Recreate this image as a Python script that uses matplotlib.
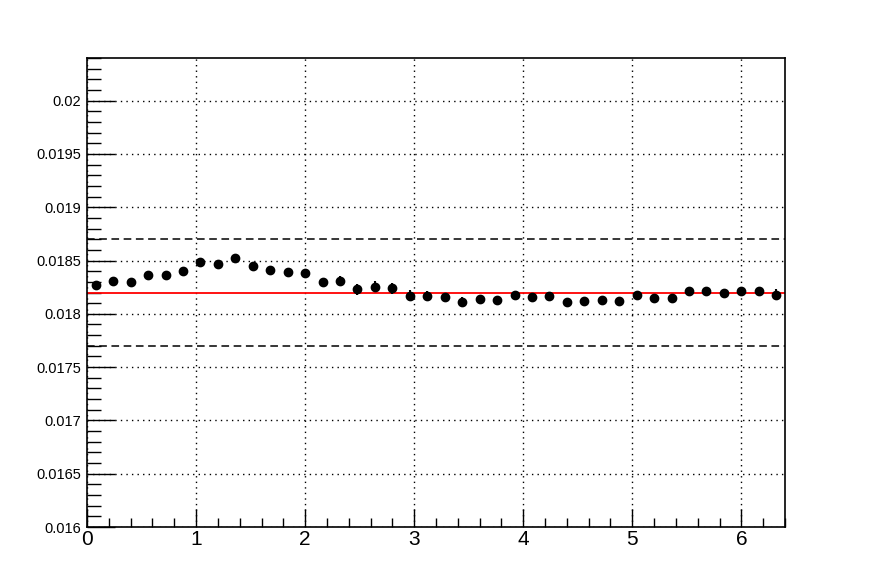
import numpy as np
import matplotlib
matplotlib.use("Agg")
import matplotlib.pyplot as plt
from matplotlib.ticker import MultipleLocator, FuncFormatter

# bin centres and measured values
x = [0.08, 0.24, 0.40, 0.56, 0.72, 0.88, 1.04, 1.20, 1.36, 1.52,
     1.68, 1.84, 2.00, 2.16, 2.32, 2.48, 2.64, 2.80, 2.96, 3.12,
     3.28, 3.44, 3.60, 3.76, 3.92, 4.08, 4.24, 4.40, 4.56, 4.72,
     4.88, 5.04, 5.20, 5.36, 5.52, 5.68, 5.84, 6.00, 6.16, 6.32]
y = [0.018272, 0.018310, 0.018295, 0.018366, 0.018360, 0.018404, 0.018486, 0.018466, 0.018522, 0.018452,
     0.018414, 0.018392, 0.018384, 0.018294, 0.018312, 0.018230, 0.018256, 0.018240, 0.018170, 0.018170,
     0.018155, 0.018110, 0.018138, 0.018130, 0.018180, 0.018160, 0.018170, 0.018110, 0.018122, 0.018125,
     0.018120, 0.018176, 0.018150, 0.018150, 0.018215, 0.018215, 0.018200, 0.018210, 0.018210, 0.018180]
yerr = [0.00002, 0.00002, 0.00002, 0.00002, 0.00002, 0.00002, 0.00002, 0.00002, 0.00002, 0.00002,
        0.00002, 0.00002, 0.00002, 0.00003, 0.00004, 0.00005, 0.00005, 0.00005, 0.00005, 0.00004,
        0.00004, 0.00005, 0.00004, 0.00004, 0.00003, 0.00003, 0.00002, 0.00002, 0.00002, 0.00002,
        0.00002, 0.00003, 0.00002, 0.00002, 0.00002, 0.00002, 0.00002, 0.00002, 0.00002, 0.00005]

mean = 0.0182
band = [0.0177, 0.0187]

plt.rcParams['font.family'] = ['Liberation Sans', 'DejaVu Sans']

fig = plt.figure(figsize=(8.72, 5.88), dpi=100)
ax = fig.add_axes([0.0998, 0.1037, 0.8004, 0.7977])

ax.set_xlim(0, 6.4)
ax.set_ylim(0.016, 0.0204)

ax.grid(True, which='major', color='black', linestyle=(0, (1, 3)), linewidth=1.0)
ax.set_axisbelow(True)

ax.axhline(mean, color='red', linewidth=1.3, zorder=2)
for b in band:
    ax.axhline(b, color='black', linestyle=(0, (5, 3)), linewidth=1.1, zorder=2)

ax.errorbar(x, y, yerr=yerr, fmt='o', color='black', markersize=6,
            elinewidth=1.5, capsize=0, zorder=3)

ax.xaxis.set_major_locator(MultipleLocator(1))
ax.xaxis.set_minor_locator(MultipleLocator(0.2))
ax.yaxis.set_major_locator(MultipleLocator(0.0005))
ax.yaxis.set_minor_locator(MultipleLocator(0.0001))
ax.yaxis.set_major_formatter(FuncFormatter(lambda v, p: '%g' % round(v, 6)))

ax.tick_params(axis='both', which='both', direction='in', top=False, right=False, color='black')
ax.tick_params(axis='x', which='major', length=13, width=1, labelsize=15, pad=2)
ax.tick_params(axis='x', which='minor', length=6.5, width=1)
ax.tick_params(axis='y', which='major', length=20, width=1, labelsize=10.5, pad=4)
ax.tick_params(axis='y', which='minor', length=10, width=1)

for s in ax.spines.values():
    s.set_linewidth(1.2)

fig.savefig('out.png', dpi=100)
